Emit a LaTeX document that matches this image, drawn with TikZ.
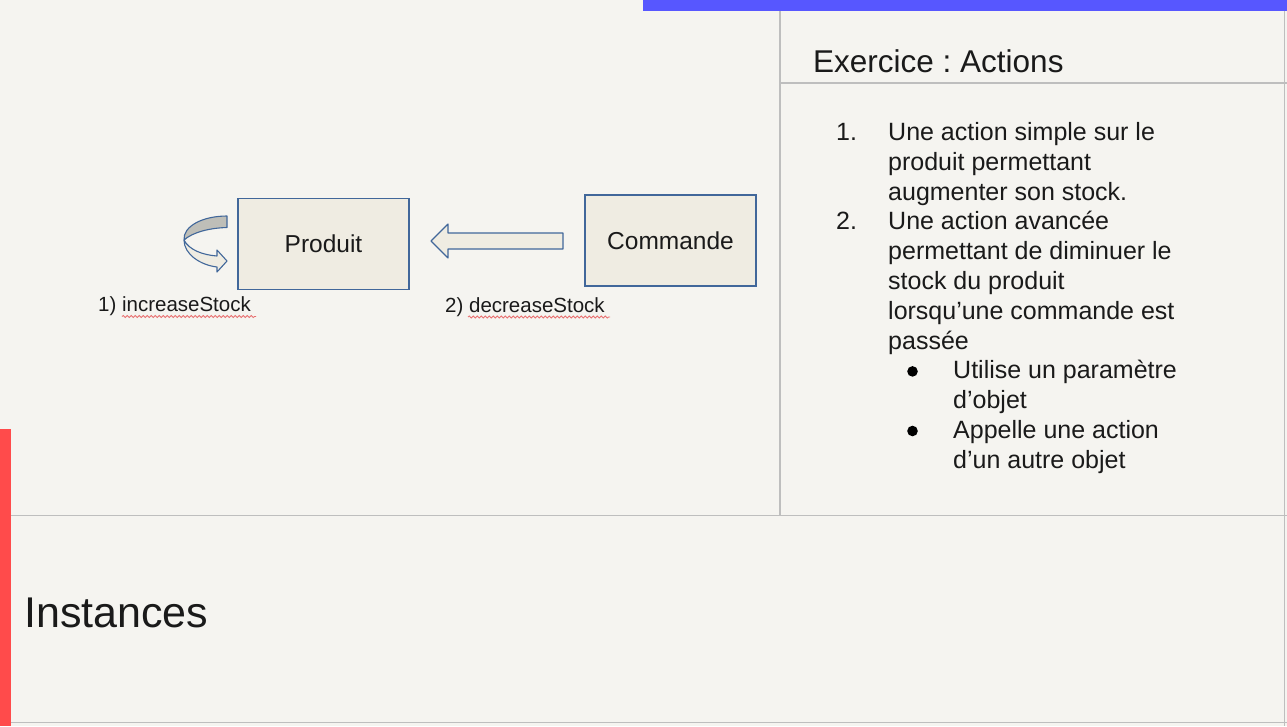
\documentclass[tikz,border=0pt]{standalone}
\usepackage{fontspec}
\setmainfont{Liberation Sans}
\usetikzlibrary{decorations.pathmorphing}
\definecolor{bg}{HTML}{F5F4F0}
\definecolor{gridc}{HTML}{BEBEBE}
\definecolor{barblue}{HTML}{5757FF}
\definecolor{barred}{HTML}{FF4B4B}
\definecolor{boxfill}{HTML}{EFECE2}
\definecolor{boxline}{HTML}{41679A}
\definecolor{ribbon}{HTML}{BEBEB8}
\definecolor{txt}{HTML}{1A1A1A}
\definecolor{squig}{HTML}{E87070}
\frenchspacing
\tikzset{
  gridline/.style={draw=gridc, line width=1.5pt},
  classbox/.style={draw=boxline, fill=boxfill, line width=1.2pt, minimum width=171pt, minimum height=91pt, inner sep=0pt, font=\fontsize{24.5}{28}\selectfont, text=txt},
  shapeline/.style={draw=boxline, line width=1.1pt, line join=round},
  label/.style={anchor=base west, font=\fontsize{20.5}{24}\selectfont, text=txt, inner sep=0pt},
  listtxt/.style={anchor=base west, font=\fontsize{25}{30}\selectfont, text=txt, inner sep=0pt},
  wavy/.style={draw=squig, line width=0.8pt, decorate, decoration={snake, amplitude=1.1pt, segment length=4pt}}
}
\begin{document}
\begin{tikzpicture}[x=1pt,y=-1pt]
\useasboundingbox (0,0) rectangle (1287,726);
\fill[bg] (0,0) rectangle (1287,726);
% panel lines
\coordinate (vtop) at (780,0);
\coordinate (vbot) at (780,515);
\draw[gridline] (vtop) -- (vbot);
\coordinate (hl1) at (780,83);
\coordinate (hr1) at (1287,83);
\draw[gridline] (hl1) -- (hr1);
\coordinate (hl2) at (10,515.5);
\coordinate (hr2) at (1287,515.5);
\draw[gridline] (hl2) -- (hr2);
\coordinate (hl3) at (10,722.5);
\coordinate (hr3) at (1287,722.5);
\draw[gridline] (hl3) -- (hr3);
\coordinate (rt) at (1284.5,0);
\coordinate (rb) at (1284.5,726);
\draw[gridline] (rt) -- (rb);
% colour bars
\fill[barblue] (643,0) rectangle (1287,10.5);
\fill[barred] (0,429) rectangle (10.5,726);
% title
\node[anchor=base west, inner sep=0pt, font=\fontsize{31.5}{36}\selectfont, text=txt] (title) at (813,72) {Exercice : Actions};
\node[anchor=base west, inner sep=0pt, font=\fontsize{43}{50}\selectfont, text=txt] (inst) at (24,627) {Instances};
% list
\def\lh{29.8}
\node[listtxt] (n1) at (836,140.5) {1.};
\node[listtxt] (l1) at (888,140.5) {Une action simple sur le};
\node[listtxt] (l2) at (888,140.5+\lh) {produit permettant};
\node[listtxt] (l3) at (888,140.5+2*\lh) {augmenter son stock.};
\node[listtxt] (n2) at (836,140.5+3*\lh) {2.};
\node[listtxt] (l4) at (888,140.5+3*\lh) {Une action avancée};
\node[listtxt] (l5) at (888,140.5+4*\lh) {permettant de diminuer le};
\node[listtxt] (l6) at (888,140.5+5*\lh) {stock du produit};
\node[listtxt] (l7) at (888,140.5+6*\lh) {lorsqu’une commande est};
\node[listtxt] (l8) at (888,140.5+7*\lh) {passée};
\fill[black] (912.5,140.5+8*\lh-7.5) circle (5.3pt) coordinate (b1);
\node[listtxt] (l9) at (953,140.5+8*\lh) {Utilise un paramètre};
\node[listtxt] (l10) at (953,140.5+9*\lh) {d’objet};
\fill[black] (912.5,140.5+10*\lh-7.5) circle (5.3pt) coordinate (b2);
\node[listtxt] (l11) at (953,140.5+10*\lh) {Appelle une action};
\node[listtxt] (l12) at (953,140.5+11*\lh) {d’un autre objet};
% boxes
\node[classbox] (produit) at (323.5,244) {Produit};
\node[classbox] (commande) at (670.5,240.5) {Commande};
% block arrow from Commande to Produit
\coordinate (tip) at (431,241);
\draw[shapeline, fill=boxfill] (563,233) -- (448,233) -- (448,224) -- (tip) -- (448,258) -- (448,249) -- (563,249) -- cycle;
% curved self arrow on Produit
\coordinate (cl) at (184,240);
\draw[shapeline, fill=boxfill] (cl) .. controls (184,254) and (200,265) .. (217,267) -- (217,272) -- (227,261) -- (217,250) -- (217,256) .. controls (203,255) and (189,250) .. (cl);
\draw[shapeline, fill=ribbon] (227,216) .. controls (203,216) and (183,226) .. (cl) .. controls (193,232) and (210,228) .. (227,227.5) -- cycle;
% labels
\node[label] (lab1) at (98,311.5) {1) increaseStock};
\node[label] (lab2) at (445,312) {2) decreaseStock};
\coordinate (w1a) at (122,316.5);
\coordinate (w1b) at (256,316.5);
\draw[wavy] (w1a) -- (w1b);
\coordinate (w2a) at (468,317);
\coordinate (w2b) at (610,317);
\draw[wavy] (w2a) -- (w2b);
\end{tikzpicture}
\end{document}
